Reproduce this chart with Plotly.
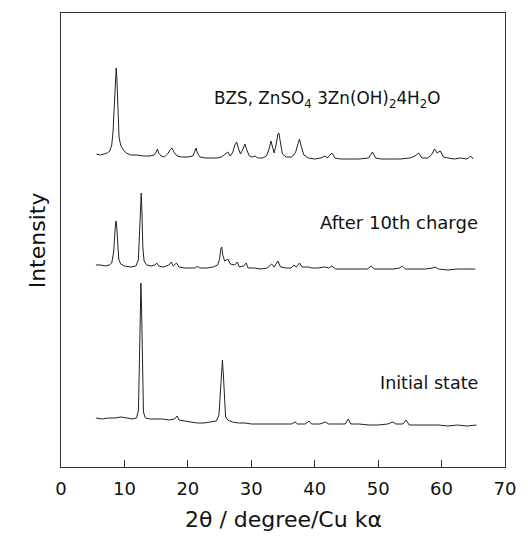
import plotly.graph_objects as go

# ---- data (2theta in degrees, intensity in arbitrary units, traces pre-offset) ----
bzs_x = [5.6, 6.2, 6.8, 7.3, 7.7, 8.0, 8.2, 8.35, 8.5, 8.6, 8.7, 8.8, 8.9, 9.0, 9.15, 9.4, 9.8,
         10.3, 11.0, 12.0, 13.0, 14.0, 14.7, 15.0, 15.2, 15.4, 15.8, 16.3, 16.8, 17.2, 17.5, 17.8,
         18.3, 19.0, 20.0, 20.8, 21.1, 21.3, 21.5, 21.9, 22.8, 23.8, 24.6, 25.3, 25.9, 26.3, 26.7,
         27.1, 27.4, 27.7, 28.0, 28.3, 28.7, 29.0, 29.3, 29.7, 30.2, 30.6, 31.0, 31.8, 32.4, 32.8,
         33.1, 33.35, 33.6, 33.9, 34.2, 34.35, 34.6, 34.9, 35.5, 36.3, 36.7, 37.0, 37.3, 37.6, 37.9,
         38.3, 39.0, 40.0, 41.0, 41.6, 42.0, 42.7, 43.2, 44.0, 45.5, 47.0, 48.5, 49.1, 49.6, 50.5,
         52.0, 53.5, 55.0, 55.8, 56.4, 56.9, 57.8, 58.4, 58.9, 59.3, 59.8, 60.3, 61.0, 62.0, 63.0,
         64.0, 64.6, 65.0]
bzs_y = [313, 312, 313, 314, 316, 322, 335, 360, 385, 397, 399, 390, 368, 345, 330, 322, 317,
         314, 312, 312, 311, 311, 312, 315, 318, 314, 311, 310, 313, 317, 319, 315,
         311, 310, 310, 311, 315, 319, 314, 310, 309, 309, 309, 310, 313, 315, 311,
         315, 322, 325, 318, 313, 318, 323, 317, 311, 310, 311, 309, 309, 311, 318,
         326, 320, 314, 322, 333, 334, 322, 313, 310, 310, 312, 315, 322, 328, 320,
         312, 309, 308, 309, 311, 309, 314, 309, 308, 308, 308, 309, 315, 309, 308,
         308, 308, 309, 311, 314, 309, 309, 312, 318, 314, 316, 310, 309, 308, 309,
         308, 311, 308]

chg_x = [5.5, 6.3, 7.0, 7.6, 8.0, 8.3, 8.5, 8.65, 8.75, 8.9, 9.1, 9.4, 10.0, 11.0, 11.8, 12.2,
         12.4, 12.55, 12.65, 12.75, 12.9, 13.1, 13.5, 14.2, 14.8, 15.1, 15.4, 16.2, 17.0, 17.4,
         17.7, 18.2, 18.6, 19.5, 20.5, 21.2, 21.5, 21.8, 23.0, 24.0, 24.7, 25.0, 25.2, 25.35,
         25.5, 25.8, 26.3, 26.7, 27.4, 27.8, 28.1, 28.8, 29.2, 29.5, 30.5, 31.5, 32.5, 33.2,
         33.6, 34.2, 34.6, 35.5, 36.3, 36.7, 37.1, 37.6, 38.0, 39.0, 39.5, 40.5, 41.6, 42.2,
         42.7, 43.3, 45.0, 46.5, 48.3, 48.9, 49.4, 51.0, 52.5, 53.4, 53.8, 54.3, 56.0, 57.5,
         58.6, 59.0, 59.5, 61.0, 62.5, 64.0, 65.3]
chg_y = [202, 202, 201, 202, 204, 215, 235, 246, 244, 225, 208, 203, 201, 200, 201, 207,
         235, 268, 274, 258, 220, 206, 202, 201, 202, 204, 201, 200, 202, 205,
         201, 204, 200, 199, 199, 199, 201, 199, 199, 200, 202, 208, 218, 220,
         212, 206, 208, 203, 202, 205, 200, 201, 204, 199, 199, 198, 199, 203,
         200, 206, 200, 199, 199, 202, 200, 204, 200, 200, 199, 199, 200, 199,
         201, 198, 198, 198, 198, 201, 198, 198, 198, 199, 201, 198, 198, 198,
         199, 200, 198, 197, 198, 198, 198]

ini_x = [5.5, 6.5, 7.5, 8.5, 9.5, 10.5, 11.3, 11.9, 12.2, 12.35, 12.5, 12.6, 12.7, 12.85, 13.0,
         13.3, 14.0, 15.0, 16.0, 17.0, 17.9, 18.3, 18.6, 19.5, 20.5, 21.5, 22.5, 23.5, 24.5,
         24.9, 25.1, 25.3, 25.45, 25.6, 25.75, 25.95, 26.3, 27.0, 28.0, 29.0, 30.0, 31.0, 32.0,
         33.0, 34.0, 35.0, 36.3, 36.9, 37.3, 38.5, 39.1, 39.5, 40.8, 41.7, 42.2, 43.5, 44.8,
         45.3, 45.7, 47.0, 48.5, 50.0, 51.5, 52.3, 52.8, 53.9, 54.4, 54.9, 56.5, 58.0, 59.5,
         61.0, 62.5, 64.0, 65.5]
ini_y = [49, 48, 49, 49, 50, 49, 48, 49, 56, 100, 165, 184, 160, 90, 55,
         49, 48, 48, 48, 47, 48, 51, 47, 46, 45, 44, 44, 45, 46,
         52, 75, 100, 107, 92, 65, 50, 47, 45, 44, 44, 43, 43, 43,
         43, 43, 43, 43, 45, 43, 43, 46, 43, 43, 45, 43, 43, 43,
         48, 43, 43, 42, 42, 43, 45, 43, 43, 47, 42, 42, 42, 42,
         41, 42, 41, 42]

x_ticks = [0, 10, 20, 30, 40, 50, 60, 70]
labels = ["BZS, ZnSO<sub>4</sub> 3Zn(OH)<sub>2</sub>4H<sub>2</sub>O",
          "After 10th charge", "Initial state"]

FONT = "DejaVu Sans"
LINE = "#222222"

fig = go.Figure()
for xs, ys in [(bzs_x, bzs_y), (chg_x, chg_y), (ini_x, ini_y)]:
    fig.add_trace(go.Scatter(x=xs, y=ys, mode="lines",
                             line=dict(color=LINE, width=1), showlegend=False,
                             hoverinfo="skip"))

fig.update_layout(
    width=528, height=542,
    margin=dict(l=61, r=17, t=13, b=75),
    paper_bgcolor="white", plot_bgcolor="white",
    font=dict(family=FONT, color="#111111"),
    xaxis=dict(range=[0, 70], tickvals=x_ticks, ticks="inside", ticklen=7,
               tickcolor="#333333", tickwidth=1, showgrid=False, zeroline=False,
               showline=True, linecolor="#333333", linewidth=1, mirror=True,
               tickfont=dict(size=18, family=FONT, color="#111111"),
               ticklabelstandoff=5),
    yaxis=dict(range=[0, 454], showticklabels=False, ticks="", showgrid=False,
               zeroline=False, showline=True, linecolor="#333333", linewidth=1,
               mirror=True),
)

ann = [
    dict(text=labels[0], x=(214 - 61) / 450, y=(467 - 99) / 454, xanchor="left",
         yanchor="middle", font=dict(size=16.8)),
    dict(text=labels[1], x=(486 - 61) / 450, y=(467 - 222) / 454, xanchor="right",
         yanchor="middle", font=dict(size=18)),
    dict(text=labels[2], x=(486 - 61) / 450, y=(467 - 383) / 454, xanchor="right",
         yanchor="middle", font=dict(size=17.5)),
    dict(text="2θ / degree/Cu kα", x=0.5, y=(467 - 519) / 454, xanchor="center",
         yanchor="middle", font=dict(size=22)),
    dict(text="Intensity", x=(37 - 61) / 450, y=0.5, xanchor="center",
         yanchor="middle", textangle=-90, font=dict(size=22)),
]
for a in ann:
    a.update(xref="paper", yref="paper", showarrow=False)
    fig.add_annotation(**a)

fig.write_html("out.html")
